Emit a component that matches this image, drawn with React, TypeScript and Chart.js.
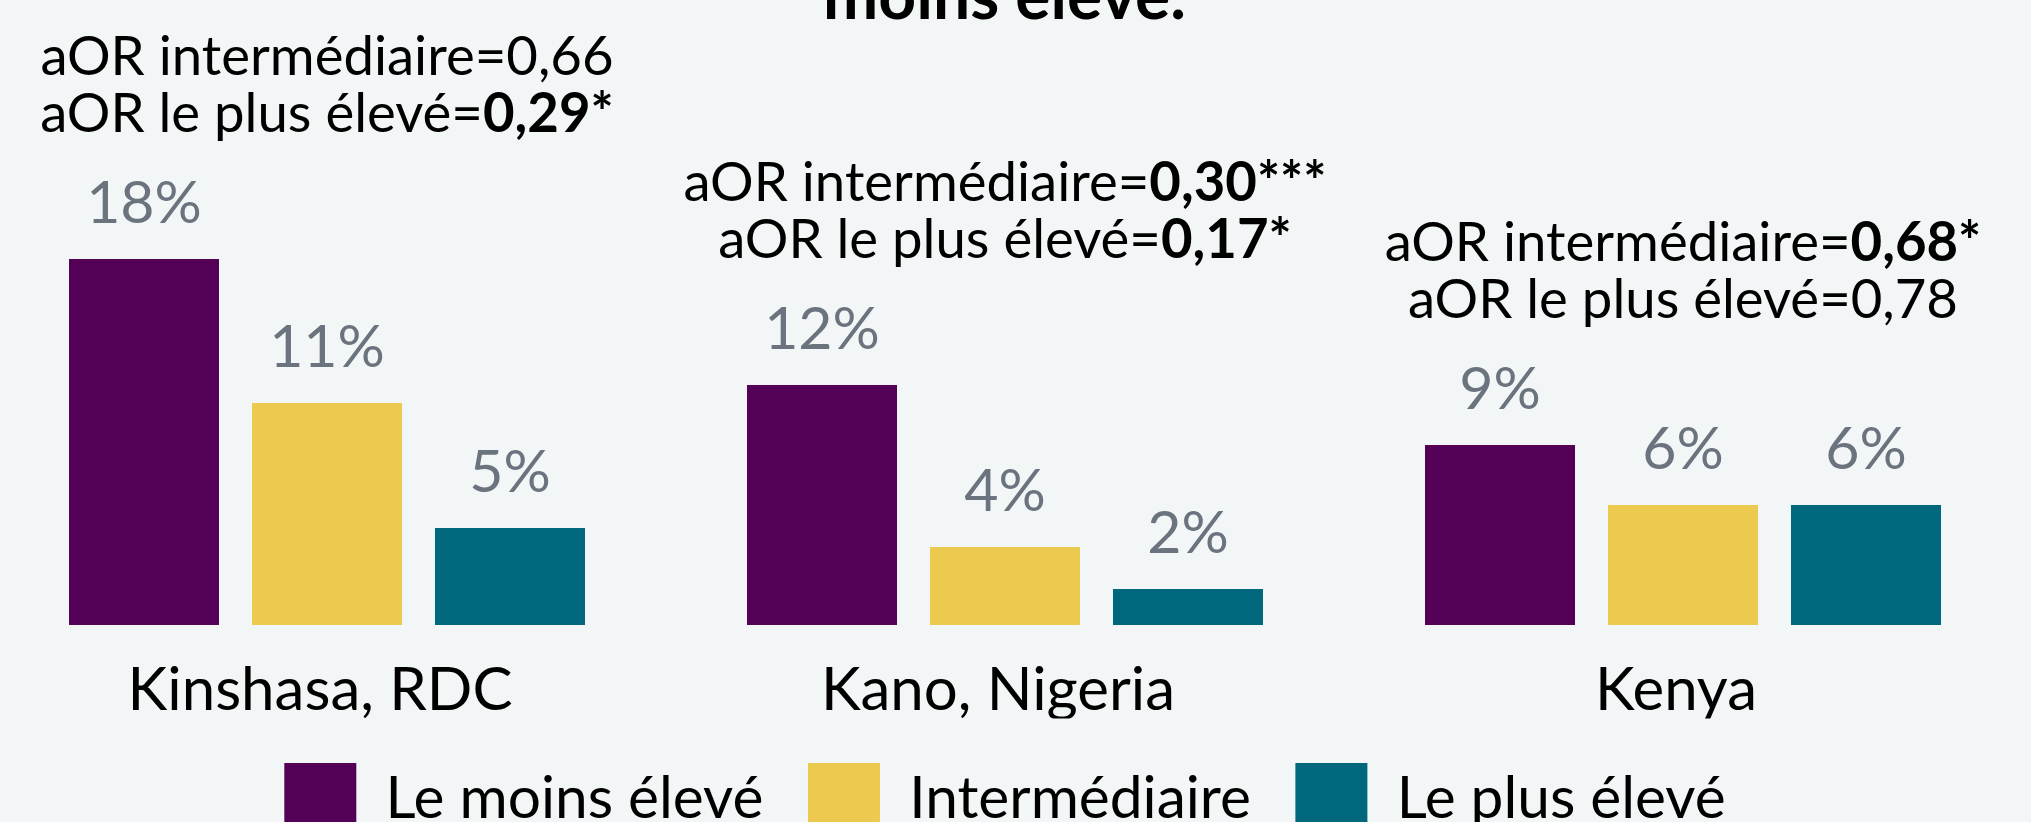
import React, { useEffect, useRef } from "react";
import { Chart, registerables } from "chart.js";

Chart.register(...registerables);

// ---- Data ----
const categories = ["Kinshasa, RDC", "Kano, Nigeria", "Kenya"];
const seriesNames = ["Le moins élevé", "Intermédiaire", "Le plus élevé"];
const lowestValues = [18.3, 12.0, 9.0];
const middleValues = [11.1, 3.9, 6.0];
const highestValues = [4.85, 1.8, 6.0];
const aorIntermediaire = ["0,66", "0,30***", "0,68*"];
const aorPlusEleve = ["0,29*", "0,17*", "0,78"];
const aorLabelMid = "aOR intermédiaire=";
const aorLabelHigh = "aOR le plus élevé=";
const titleFragment = "moins élevé.";

// ---- Styles ----
const FONT = "Lato";
const seriesColors = ["#540056", "#ecc94f", "#00677d"];
const BG = "#f2f6f7";
const VALUE_COLOR = "#6b747e";

type Seg = { text: string; bold: boolean };

function drawRich(ctx: CanvasRenderingContext2D, segs: Seg[], cx: number, y: number, size: number) {
  let total = 0;
  const widths = segs.map((s) => {
    ctx.font = `${s.bold ? "bold " : ""}${size}px ${FONT}`;
    const w = ctx.measureText(s.text).width;
    total += w;
    return w;
  });
  let x = cx - total / 2;
  ctx.textAlign = "left";
  segs.forEach((s, k) => {
    ctx.font = `${s.bold ? "bold " : ""}${size}px ${FONT}`;
    ctx.fillText(s.text, x, y);
    x += widths[k];
  });
}

const overlayPlugin = {
  id: "overlay",
  afterDatasetsDraw(chart: any) {
    const ctx: CanvasRenderingContext2D = chart.ctx;
    ctx.save();
    // title fragment (upper lines of the original title are cropped away)
    ctx.fillStyle = "#000";
    ctx.font = `bold 66px ${FONT}`;
    ctx.textAlign = "center";
    ctx.textBaseline = "alphabetic";
    ctx.fillText(titleFragment, chart.width / 2 - 5, 19);

    // value labels
    ctx.fillStyle = VALUE_COLOR;
    ctx.font = `59px ${FONT}`;
    chart.data.datasets.forEach((ds: any, di: number) => {
      const meta = chart.getDatasetMeta(di);
      meta.data.forEach((bar: any, i: number) => {
        const v = ds.data[i] as number;
        ctx.textAlign = "center";
        ctx.fillText(Math.round(v) + "%", bar.x, bar.y - 36);
      });
    });

    // aOR annotations
    ctx.fillStyle = "#000";
    const xScale = chart.scales.x;
    categories.forEach((_, i) => {
      let top = Infinity;
      chart.data.datasets.forEach((_ds: any, di: number) => {
        const bar = chart.getDatasetMeta(di).data[i];
        top = Math.min(top, bar.y);
      });
      const cx = xScale.getPixelForValue(i);
      const y2 = top - 127;
      const y1 = y2 - 57;
      const mid = aorIntermediaire[i];
      const high = aorPlusEleve[i];
      drawRich(ctx, [{ text: aorLabelMid, bold: false }, { text: mid, bold: mid.includes("*") }], cx, y1, 54.5);
      drawRich(ctx, [{ text: aorLabelHigh, bold: false }, { text: high, bold: high.includes("*") }], cx, y2, 54.5);
    });
    ctx.restore();
  },
};

export default function App() {
  const ref = useRef<HTMLCanvasElement | null>(null);

  useEffect(() => {
    if (!ref.current) return;
    const chart = new Chart(ref.current, {
      type: "bar",
      data: {
        labels: categories,
        datasets: [
          { label: seriesNames[0], data: lowestValues, backgroundColor: seriesColors[0] },
          { label: seriesNames[1], data: middleValues, backgroundColor: seriesColors[1] },
          { label: seriesNames[2], data: highestValues, backgroundColor: seriesColors[2] },
        ],
      },
      options: {
        responsive: false,
        animation: false,
        layout: { padding: { top: 25, right: 9, left: 0, bottom: 0 } },
        datasets: {
          bar: { categoryPercentage: 0.8097, barPercentage: 0.8197 },
        },
        scales: {
          x: {
            grid: { display: false },
            border: { display: false },
            ticks: { color: "#000", font: { family: FONT, size: 60 }, padding: 22, labelOffset: -7 },
            afterFit: (scale: any) => {
              scale.height = 93.5;
            },
          },
          y: { display: false, min: 0, max: 30 },
        },
        plugins: {
          legend: {
            position: "bottom",
            labels: {
              color: "#000",
              font: { family: FONT, size: 58.6 },
              boxWidth: 72,
              boxHeight: 72,
              padding: 44.5,
            },
          },
          tooltip: { enabled: false },
          title: { display: false },
        },
      },
      plugins: [overlayPlugin],
    } as any);
    return () => chart.destroy();
  }, []);

  return (
    <div style={{ position: "fixed", left: 0, top: 0, width: 2031, height: 822, overflow: "hidden", background: BG }}>
      <canvas
        ref={ref}
        width={2043}
        height={845}
        style={{ position: "absolute", left: -12, top: 0, width: 2043, height: 845 }}
      />
    </div>
  );
}
